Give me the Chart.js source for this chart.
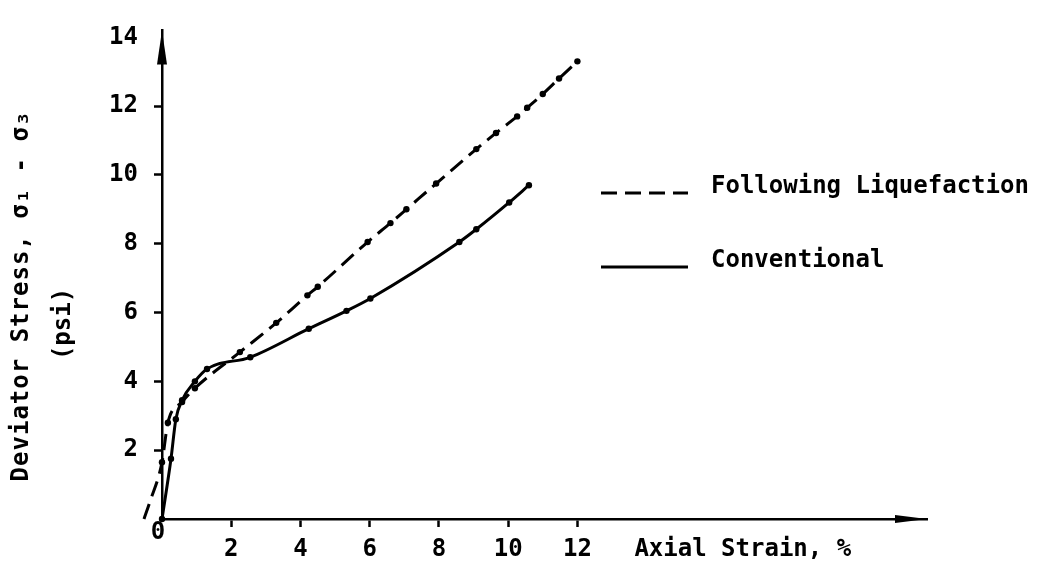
<!DOCTYPE html>
<html>
<head>
<meta charset="utf-8">
<title>Deviator Stress vs Axial Strain</title>
<script src="https://cdn.jsdelivr.net/npm/chart.js@4.4.1/dist/chart.umd.min.js"></script>
<style>
  html, body { margin: 0; padding: 0; background: #fff; }
  #contenedor { width: 1043px; height: 573px; }
</style>
</head>
<body>
<div id="contenedor"><canvas id="graficoEnsayo"></canvas></div>
<script>
// deformación axial (%) y esfuerzo desviador (psi) de cada ensayo
const deformLicuefaccion = [-0.52, -0.35, 0.0, 0.17, 0.58, 0.95, 2.25, 3.3, 4.2, 4.5, 5.94, 6.6, 7.06, 7.92, 9.08, 9.65, 10.26, 10.55, 11.0, 11.47, 12.0];
const esfuerzoLicuefaccion = [0.0, 0.5, 1.65, 2.8, 3.4, 3.8, 4.85, 5.7, 6.5, 6.75, 8.05, 8.6, 9.0, 9.75, 10.75, 11.22, 11.7, 11.95, 12.35, 12.8, 13.3];
const deformConvencional = [0.0, 0.26, 0.4, 0.58, 0.95, 1.3, 2.55, 4.24, 5.33, 6.02, 8.59, 9.08, 10.03, 10.6];
const esfuerzoConvencional = [0.0, 1.75, 2.9, 3.45, 4.0, 4.36, 4.7, 5.53, 6.05, 6.41, 8.05, 8.42, 9.2, 9.7];

const ticksX = [0, 2, 4, 6, 8, 10, 12];
const ticksY = [2, 4, 6, 8, 10, 12, 14];
const maxX = 22.1;
const maxY = 14.2;

const FUENTE = '"DejaVu Sans Mono", "Liberation Mono", monospace';

const puntos = (xs, ys) => xs.map((x, i) => ({ x: x, y: ys[i] }));

// flechas de los ejes, títulos, el "0" del origen y la leyenda
const anotaciones = {
  id: 'anotaciones',
  afterDraw(chart) {
    const { ctx, chartArea, scales: { x, y } } = chart;
    const x0 = x.getPixelForValue(0);
    const y0 = y.getPixelForValue(0);

    ctx.save();
    ctx.fillStyle = '#000';
    ctx.strokeStyle = '#000';

    ctx.beginPath();
    ctx.moveTo(x0, chartArea.top);
    ctx.lineTo(x0 - 5, chartArea.top + 34);
    ctx.lineTo(x0 + 5, chartArea.top + 34);
    ctx.closePath();
    ctx.fill();

    ctx.beginPath();
    ctx.moveTo(chartArea.right, y0);
    ctx.lineTo(chartArea.right - 32, y0 - 4);
    ctx.lineTo(chartArea.right - 32, y0 + 4);
    ctx.closePath();
    ctx.fill();

    ctx.font = 'bold 24px ' + FUENTE;
    ctx.textBaseline = 'middle';
    ctx.textAlign = 'center';
    ctx.fillText('0', x0 - 4, y0 + 14);

    ctx.textAlign = 'left';
    ctx.fillText('Axial Strain, %', x.getPixelForValue(12) + 57, y0 + 31);

    ctx.save();
    ctx.translate(22, 296);
    ctx.rotate(-Math.PI / 2);
    ctx.textAlign = 'center';
    ctx.letterSpacing = '1px';
    ctx.fillText('Deviator Stress, σ₁ - σ₃', 0, 0);
    ctx.restore();

    ctx.save();
    ctx.translate(64, 324);
    ctx.rotate(-Math.PI / 2);
    ctx.textAlign = 'center';
    ctx.fillText('(psi)', 0, 0);
    ctx.restore();

    // leyenda
    const filas = [193, 267];
    chart.data.datasets.forEach((ds, i) => {
      const yy = filas[i];
      ctx.beginPath();
      ctx.lineWidth = ds.borderWidth;
      ctx.setLineDash(ds.borderDash || []);
      ctx.moveTo(601, yy);
      ctx.lineTo(688, yy);
      ctx.stroke();
      ctx.setLineDash([]);
      ctx.textBaseline = 'alphabetic';
      ctx.textAlign = 'left';
      ctx.fillText(ds.label, 711, yy);
    });
    ctx.restore();
  }
};

const ctx = document.getElementById('graficoEnsayo').getContext('2d');

new Chart(ctx, {
  type: 'line',
  data: {
    datasets: [{
      label: 'Following Liquefaction',
      data: puntos(deformLicuefaccion, esfuerzoLicuefaccion),
      borderColor: '#000',
      borderWidth: 3,
      borderDash: [16, 8],
      pointRadius: 3.2,
      pointBackgroundColor: '#000',
      pointBorderWidth: 0,
      cubicInterpolationMode: 'monotone',
      clip: false
    }, {
      label: 'Conventional',
      data: puntos(deformConvencional, esfuerzoConvencional),
      borderColor: '#000',
      borderWidth: 3,
      pointRadius: 3.2,
      pointBackgroundColor: '#000',
      pointBorderWidth: 0,
      cubicInterpolationMode: 'monotone',
      clip: false
    }]
  },
  options: {
    responsive: true,
    maintainAspectRatio: false,
    animation: false,
    layout: { padding: { left: 0, right: 116, top: 8, bottom: 0 } },
    plugins: {
      legend: { display: false },
      tooltip: { enabled: false }
    },
    scales: {
      x: {
        type: 'linear',
        bounds: 'data',
        afterDataLimits: s => { s.min = 0; s.max = maxX; },
        afterBuildTicks: s => { s.ticks = ticksX.map(v => ({ value: v })); },
        afterFit: s => { s.height = 54; },
        border: { display: true, color: '#000', width: 2.5 },
        grid: {
          drawOnChartArea: false,
          tickLength: 8,
          tickWidth: 2.5,
          color: c => (c.tick && c.tick.value === 0) ? 'rgba(0,0,0,0)' : '#000'
        },
        ticks: {
          padding: 8,
          maxRotation: 0,
          color: '#000',
          font: { family: FUENTE, size: 24, weight: 'bold' },
          callback: v => v === 0 ? '' : v
        }
      },
      y: {
        min: 0,
        max: maxY,
        afterBuildTicks: s => { s.ticks = ticksY.map(v => ({ value: v })); },
        afterFit: s => { s.width = 162; },
        border: { display: true, color: '#000', width: 2.5 },
        grid: {
          drawOnChartArea: false,
          tickLength: 8,
          tickWidth: 2.5,
          color: c => (c.tick && c.tick.value === 14) ? 'rgba(0,0,0,0)' : '#000'
        },
        ticks: {
          padding: 16,
          color: '#000',
          font: { family: FUENTE, size: 24, weight: 'bold' }
        }
      }
    }
  },
  plugins: [anotaciones]
});
</script>
</body>
</html>
